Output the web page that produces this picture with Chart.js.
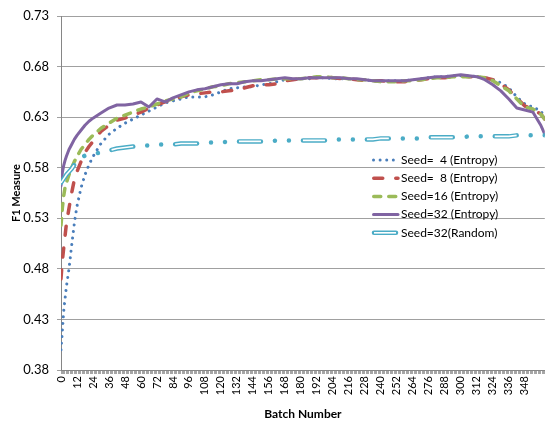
<!DOCTYPE html>
<html>
<head>
<meta charset="utf-8">
<script src="https://cdn.jsdelivr.net/npm/chart.js@4/dist/chart.umd.min.js"></script>
<style>
  html, body { margin: 0; padding: 0; background: #ffffff; }
  canvas { display: block; }
</style>
</head>
<body>
<canvas id="chart" width="560" height="421"></canvas>
<script>
// Batch numbers at which F1 was sampled
const batches = [0,1,2,3,4,6,8,10,12,15,18,21,24,
  30,36,42,48,54,60,66,72,78,84,
  90,96,102,108,114,120,126,132,138,144,
  150,156,162,168,174,180,186,192,198,204,
  210,216,222,228,234,240,246,252,258,264,
  270,276,282,288,294,300,306,312,318,324,
  330,336,342,348,354,360,363];

const seed4Entropy = [0.400,0.418,0.438,0.450,0.462,0.480,0.503,0.525,0.542,0.560,0.573,0.583,0.591,
  0.604,0.613,0.619,0.624,0.628,0.632,0.636,0.640,0.644,0.646,
  0.648,0.650,0.650,0.650,0.652,0.655,0.658,0.659,0.660,0.660,
  0.662,0.663,0.665,0.667,0.667,0.668,0.668,0.669,0.669,0.668,
  0.668,0.668,0.667,0.667,0.666,0.666,0.666,0.666,0.666,0.667,
  0.668,0.669,0.670,0.670,0.671,0.671,0.671,0.670,0.669,0.667,
  0.664,0.659,0.650,0.643,0.640,0.636,0.630];

const seed8Entropy = [0.470,0.488,0.500,0.512,0.524,0.540,0.555,0.568,0.576,0.586,0.595,0.601,0.606,
  0.616,0.622,0.627,0.629,0.632,0.635,0.639,0.642,0.645,0.648,
  0.650,0.652,0.653,0.654,0.655,0.655,0.656,0.657,0.659,0.661,
  0.662,0.662,0.663,0.666,0.667,0.668,0.669,0.669,0.670,0.669,
  0.668,0.668,0.667,0.666,0.666,0.666,0.665,0.665,0.665,0.666,
  0.667,0.668,0.669,0.669,0.670,0.671,0.670,0.670,0.669,0.667,
  0.663,0.657,0.649,0.641,0.638,0.633,0.628];

const seed16Entropy = [0.523,0.540,0.552,0.560,0.565,0.573,0.580,0.586,0.591,0.598,0.603,0.608,0.612,
  0.619,0.624,0.629,0.632,0.635,0.638,0.640,0.643,0.646,0.648,
  0.650,0.654,0.656,0.658,0.660,0.661,0.663,0.664,0.665,0.666,
  0.667,0.667,0.668,0.668,0.668,0.668,0.669,0.670,0.670,0.669,
  0.669,0.668,0.667,0.667,0.666,0.665,0.665,0.665,0.666,0.666,
  0.667,0.668,0.669,0.669,0.670,0.670,0.670,0.670,0.669,0.666,
  0.661,0.656,0.648,0.640,0.638,0.633,0.628];

const seed32Entropy = [0.562,0.575,0.582,0.587,0.591,0.598,0.603,0.608,0.612,0.617,0.622,0.626,0.629,
  0.634,0.639,0.642,0.642,0.643,0.645,0.640,0.648,0.645,0.649,
  0.652,0.655,0.657,0.658,0.660,0.662,0.663,0.663,0.665,0.666,
  0.666,0.667,0.668,0.669,0.668,0.668,0.669,0.669,0.669,0.669,
  0.669,0.668,0.668,0.667,0.666,0.666,0.666,0.666,0.666,0.667,
  0.668,0.669,0.670,0.670,0.671,0.672,0.671,0.670,0.667,0.662,
  0.656,0.648,0.639,0.637,0.635,0.622,0.613];

const seed32Random = [0.565,0.567,0.569,0.571,0.573,0.576,0.579,0.583,0.586,0.590,0.592,0.593,0.594,
  0.595,0.597,0.599,0.600,0.601,0.602,0.602,0.603,0.603,0.603,
  0.604,0.604,0.604,0.605,0.605,0.605,0.606,0.606,0.606,0.606,
  0.606,0.606,0.607,0.607,0.607,0.607,0.607,0.607,0.607,0.608,
  0.608,0.608,0.608,0.608,0.608,0.609,0.609,0.609,0.609,0.609,
  0.609,0.610,0.610,0.610,0.610,0.610,0.611,0.611,0.611,0.611,
  0.611,0.611,0.612,0.612,0.612,0.612,0.612];

const seriesLabels = ['Seed=  4 (Entropy)', 'Seed=  8 (Entropy)', 'Seed=16 (Entropy)', 'Seed=32 (Entropy)', 'Seed=32(Random)'];

const yTickValues = [0.38, 0.43, 0.48, 0.53, 0.58, 0.63, 0.68, 0.73];
const xTickLabels = [0,12,24,36,48,60,72,84,96,108,120,132,144,156,168,180,192,204,216,228,240,252,264,276,288,300,312,324,336,348];
const xMax = 363;

const FONT = 'Lato, "Open Sans", sans-serif';
const RANDOM_DASH = [22, 14, 0.01, 14, 0.01, 14];
const RANDOM_INNER_DASH = [22, 42.02];

const toPoints = vals => batches.map((b, i) => ({ x: b, y: vals[i] }));

const datasets = [
  { label: seriesLabels[0], data: toPoints(seed4Entropy), borderColor: '#4A7EBB', borderWidth: 3,
    borderDash: [0.01, 6.6], borderCapStyle: 'round', order: 5, legendRow: 0 },
  { label: seriesLabels[1], data: toPoints(seed8Entropy), borderColor: '#C0504D', borderWidth: 3.5,
    borderDash: [9, 13], borderCapStyle: 'round', order: 4, legendRow: 1 },
  { label: seriesLabels[2], data: toPoints(seed16Entropy), borderColor: '#9BBB59', borderWidth: 3.5,
    borderDash: [7, 8], borderCapStyle: 'round', order: 3, legendRow: 2 },
  { label: seriesLabels[3], data: toPoints(seed32Entropy), borderColor: '#8064A2', borderWidth: 3,
    borderDash: [], borderCapStyle: 'round', order: 2, legendRow: 3 },
  { label: seriesLabels[4], data: toPoints(seed32Random), borderColor: '#4BACC6', borderWidth: 4.5,
    borderDash: RANDOM_DASH, borderCapStyle: 'round', order: 1, legendRow: 4, hollow: true },
  // white core that turns the long dashes of the random run into hollow strokes
  { label: '', data: toPoints(seed32Random), borderColor: '#FFFFFF', borderWidth: 1.6,
    borderDash: RANDOM_INNER_DASH, borderCapStyle: 'butt', order: 0 }
];

datasets.forEach(d => {
  d.pointRadius = 0;
  d.pointHoverRadius = 0;
  d.tension = 0;
  d.fill = false;
  d.borderJoinStyle = 'round';
});

// Legend drawn as line samples beside the labels
const sideLegend = {
  id: 'sideLegend',
  afterDraw(chart) {
    const ctx = chart.ctx;
    const x0 = 372, x1 = 398, textX = 401, firstY = 160, rowStep = 18.2;
    chart.data.datasets.forEach(ds => {
      if (ds.legendRow === undefined) return;
      const y = firstY + ds.legendRow * rowStep;
      ctx.save();
      ctx.strokeStyle = ds.borderColor;
      ctx.lineWidth = ds.borderWidth;
      ctx.lineCap = ds.borderCapStyle;
      ctx.setLineDash(ds.borderDash || []);
      ctx.beginPath();
      if (ds.hollow) {
        ctx.setLineDash([]);
        ctx.moveTo(x0 + 2, y); ctx.lineTo(x1 - 2, y); ctx.stroke();
        ctx.strokeStyle = '#FFFFFF';
        ctx.lineWidth = 1.6;
        ctx.lineCap = 'butt';
        ctx.beginPath();
        ctx.moveTo(x0 + 2, y); ctx.lineTo(x1 - 2, y);
      } else {
        const inset = ds.borderCapStyle === 'round' ? ds.borderWidth / 2 : 0;
        ctx.moveTo(x0 + inset, y); ctx.lineTo(x1, y);
      }
      ctx.stroke();
      ctx.restore();

      ctx.save();
      ctx.fillStyle = '#000000';
      ctx.font = '12px ' + FONT;
      ctx.textAlign = 'left';
      ctx.textBaseline = 'middle';
      ctx.fillText(ds.label, textX, y);
      ctx.restore();
    });
  }
};

new Chart(document.getElementById('chart'), {
  type: 'line',
  data: { datasets },
  plugins: [sideLegend],
  options: {
    responsive: false,
    animation: false,
    devicePixelRatio: 1,
    layout: { padding: { top: 16, right: 1, bottom: 0, left: 0 } },
    plugins: { legend: { display: false }, tooltip: { enabled: false } },
    scales: {
      x: {
        type: 'linear',
        min: 0,
        max: xMax,
        afterFit: s => { s.height = 51; },
        ticks: {
          stepSize: 1,
          autoSkip: false,
          minRotation: 90,
          maxRotation: 90,
          padding: 2,
          color: '#000000',
          font: { family: FONT, size: 11 },
          callback: v => xTickLabels.includes(v) ? String(v) : ''
        },
        grid: { display: true, drawOnChartArea: false, drawTicks: true, tickLength: 4, color: '#a6a6a6' },
        border: { display: true, color: '#868686' },
        title: {
          display: true, text: 'Batch Number', color: '#000000',
          font: { family: FONT, size: 12, weight: 'bold' }, padding: { top: 0, bottom: 0 }
        }
      },
      y: {
        min: 0.38,
        max: 0.73,
        afterFit: s => { s.width = 61; },
        afterBuildTicks: s => { s.ticks = yTickValues.map(v => ({ value: v })); },
        ticks: {
          padding: 8,
          color: '#000000',
          font: { family: FONT, size: 13 },
          callback: v => Number(v).toFixed(2)
        },
        grid: { color: '#a0a0a0', lineWidth: 1, drawTicks: true, tickLength: 4 },
        border: { display: true, color: '#868686' },
        title: {
          display: true, text: 'F1 Measure', color: '#000000',
          font: { family: FONT, size: 11, weight: 'bold' }, padding: { top: 10, bottom: 0 }
        }
      }
    }
  }
});
</script>
</body>
</html>
